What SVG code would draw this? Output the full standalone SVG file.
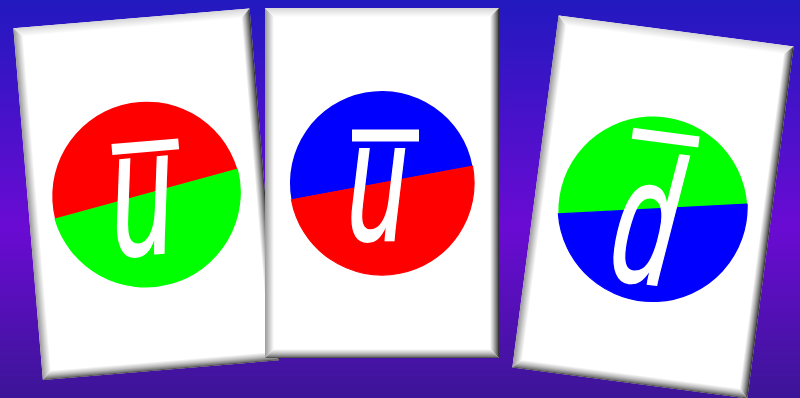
<svg xmlns="http://www.w3.org/2000/svg" width="800" height="398" viewBox="0 0 800 398">
<defs>
<linearGradient id="bg" x1="0" y1="0" x2="0" y2="1">
<stop offset="0" stop-color="#2219bf"/>
<stop offset="0.57" stop-color="#6a0bd3"/>
<stop offset="1" stop-color="#3c1597"/>
</linearGradient>
<linearGradient id="bl" x1="0" y1="0" x2="1" y2="0">
<stop offset="0" stop-color="#9a9a9a"/>
<stop offset="1" stop-color="#ffffff"/>
</linearGradient>
<linearGradient id="bt" x1="0" y1="0" x2="0" y2="1">
<stop offset="0" stop-color="#d6d6d6"/>
<stop offset="1" stop-color="#ffffff"/>
</linearGradient>
<linearGradient id="br" x1="0" y1="0" x2="1" y2="0">
<stop offset="0" stop-color="#ffffff"/>
<stop offset="0.45" stop-color="#b0b0b0"/>
<stop offset="0.85" stop-color="#5a5a5a"/>
<stop offset="1" stop-color="#222222"/>
</linearGradient>
<linearGradient id="bb" x1="0" y1="0" x2="0" y2="1">
<stop offset="0" stop-color="#ffffff"/>
<stop offset="0.5" stop-color="#bcbcbc"/>
<stop offset="0.88" stop-color="#727272"/>
<stop offset="1" stop-color="#3a3a3a"/>
</linearGradient>
</defs>
<style>
.face{fill:#ffffff}
.l{fill:url(#bl)}
.t{fill:url(#bt)}
.r{fill:url(#br)}
.b{fill:url(#bb)}
.red{fill:#ff0000}
.grn{fill:#00ff00}
.blu{fill:#0000ff}
.seg{stroke-width:1.2}
.red.seg{stroke:#ff0000}
.blu.seg{stroke:#0000ff}
.ltr{font-family:"Liberation Sans",Arial,sans-serif;font-style:italic;fill:#ffffff;stroke:#ffffff;stroke-width:1.8;text-anchor:middle}
.bar{fill:#ffffff}
</style>
<rect x="0" y="0" width="800" height="398" fill="url(#bg)"/>

<g id="card1" transform="translate(146.25,194.25) rotate(-4.8)">
<rect class="face" x="-118.5" y="-176.5" width="237" height="353"/>
<polygon class="l" points="-118.5,-176.5 -109.5,-167.5 -109.5,167.5 -118.5,176.5"/>
<polygon class="t" points="-118.5,-176.5 118.5,-176.5 109.5,-167.5 -109.5,-167.5"/>
<polygon class="r" points="118.5,-176.5 118.5,176.5 109.5,167.5 109.5,-167.5"/>
<polygon class="b" points="-118.5,176.5 -109.5,167.5 109.5,167.5 118.5,176.5"/>
<path class="red" d="M 92.9 -17.2 A 94.5 94.5 0 0 0 -92.9 17.2 Z"/>
<path class="grn" d="M -92.9 17.2 L 92.9 -17.2 A 94.5 94.5 0 0 1 -92.9 17.2 Z" stroke="#00ff00" stroke-width="1.2"/>
<rect class="bar" x="-30.5" y="-53" width="67" height="11"/>
<text class="ltr" transform="scale(0.62,1)" x="-8" y="60" font-size="182">u</text>
</g>

<g id="card2" transform="translate(382,183)">
<rect class="face" x="-117" y="-175" width="234" height="350"/>
<polygon class="l" points="-117,-175 -108,-166 -108,166 -117,175"/>
<polygon class="t" points="-117,-175 117,-175 108,-166 -108,-166"/>
<polygon class="r" points="117,-175 117,175 108,166 108,-166"/>
<polygon class="b" points="-117,175 -108,166 108,166 117,175"/>
<path class="blu" d="M 90.5 -16.8 A 92 92 0 0 0 -90.5 16.8 Z"/>
<path class="red seg" d="M -90.5 16.8 L 90.5 -16.8 A 92 92 0 0 1 -90.5 16.8 Z"/>
<rect class="bar" x="-30" y="-53.5" width="67" height="12"/>
<text class="ltr" transform="scale(0.62,1)" x="-8" y="57" font-size="172">u</text>
</g>

<g id="card3" transform="translate(653,207) rotate(7.5)">
<rect class="face" x="-118.5" y="-177.5" width="237" height="355"/>
<polygon class="l" points="-118.5,-177.5 -109.5,-168.5 -109.5,168.5 -118.5,177.5"/>
<polygon class="t" points="-118.5,-177.5 118.5,-177.5 109.5,-168.5 -109.5,-168.5"/>
<polygon class="r" points="118.5,-177.5 118.5,177.5 109.5,168.5 109.5,-168.5"/>
<polygon class="b" points="-118.5,177.5 -109.5,168.5 109.5,168.5 118.5,177.5"/>
<path class="grn" d="M 92.9 -15.2 A 94.5 94.5 0 0 0 -92.9 19.2 Z"/>
<path class="blu seg" d="M -92.9 19.2 L 92.9 -15.2 A 94.5 94.5 0 0 1 -92.9 19.2 Z"/>
<rect class="bar" x="-30" y="-76" width="67" height="11"/>
<text class="ltr" transform="scale(0.62,1)" x="-8" y="77" font-size="182">d</text>
</g>
</svg>
